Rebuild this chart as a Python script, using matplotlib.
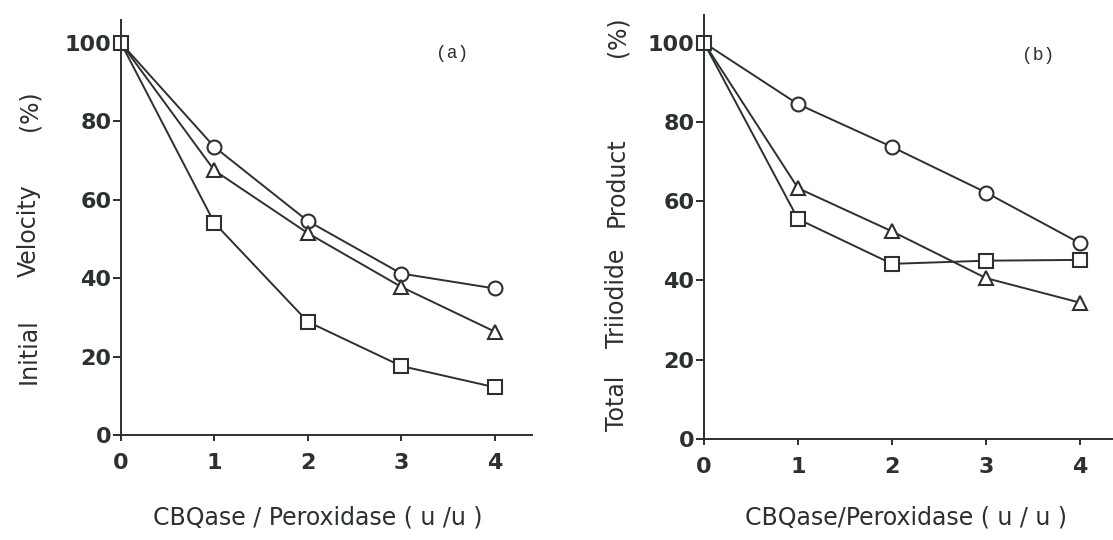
import numpy as np
import matplotlib
matplotlib.use("Agg")
import matplotlib.pyplot as plt

# ratio CBQase / peroxidase (u/u)
ratio = [0, 1, 2, 3, 4]

# (a) initial velocity (%)
vel_circle = [100, 73.5, 54.6, 41.2, 37.4]
vel_triangle = [100, 67.5, 51.5, 37.8, 26.4]
vel_square = [100, 54.1, 28.9, 17.6, 12.2]

# (b) total triiodide product (%)
tri_circle = [100, 84.5, 73.7, 62.2, 49.4]
tri_triangle = [100, 63.3, 52.4, 40.6, 34.4]
tri_square = [100, 55.5, 44.2, 45.0, 45.2]

yticks = [0, 20, 40, 60, 80, 100]
xticks = [0, 1, 2, 3, 4]

# y-label words, spread out like the original typesetting
ylab_a = ['Initial', 'Velocity', '(%)']
ylab_b = ['Total', 'Triiodide', 'Product', '(%)']

ink = '#2b312d'
W, H = 1113, 540

fig = plt.figure(figsize=(W/100, H/100), dpi=100)

def px(x0, y0, x1, y1):
    # pixel box -> figure fraction [left, bottom, width, height]
    return [x0/W, 1-y1/H, (x1-x0)/W, (y1-y0)/H]

ax1 = fig.add_axes(px(121, 20, 532, 435))
ax2 = fig.add_axes(px(704, 15, 1113, 439))

def style(ax, ytop, xright):
    ax.set_xlim(0, xright)
    ax.set_ylim(0, ytop)
    for s in ['top', 'right']:
        ax.spines[s].set_visible(False)
    for s in ['left', 'bottom']:
        ax.spines[s].set_color(ink)
        ax.spines[s].set_linewidth(1.4)
    ax.set_xticks(xticks)
    ax.set_yticks(yticks)
    ax.tick_params(axis='y', direction='out', length=6, width=1.4, pad=1,
                   colors=ink, labelsize=16)
    ax.tick_params(axis='x', direction='out', length=4, width=1.4, pad=9,
                   colors=ink, labelsize=16)
    for lab in ax.get_xticklabels() + ax.get_yticklabels():
        lab.set_fontweight('bold')
        lab.set_family('DejaVu Sans')

def series(ax, y, marker, skip_first=True):
    me = slice(1, None) if skip_first else None
    ax.plot(ratio, y, color=ink, lw=1.4, marker=marker, ms=10,
            mfc='white', mec=ink, mew=1.5, markevery=me, clip_on=False)

style(ax1, 105.9, 4.4)
series(ax1, vel_circle, 'o')
series(ax1, vel_triangle, '^')
series(ax1, vel_square, 's', skip_first=False)

style(ax2, 107, 4.35)
series(ax2, tri_circle, 'o')
series(ax2, tri_triangle, '^')
series(ax2, tri_square, 's', skip_first=False)

lab_font = dict(family='DejaVu Sans', color=ink, fontsize=17)

# word centres (pixel rows)
for word, yc in zip(ylab_a, [351, 231, 111]):
    fig.text(29/W, 1-yc/H, word, rotation=90, ha='center', va='center', **lab_font)
for word, yc in zip(ylab_b, [403, 298, 182, 37]):
    fig.text(617/W, 1-yc/H, word, rotation=90, ha='center', va='center', **lab_font)

fig.text(318/W, 1-517/H, 'CBQase / Peroxidase ( u /u )',
         ha='center', va='center', **lab_font)
fig.text(906/W, 1-517/H, 'CBQase/Peroxidase ( u / u )',
         ha='center', va='center', **lab_font)

fig.text(452/W, 1-53/H, '(a)', ha='center', va='center', fontsize=13,
         family='Liberation Mono', color=ink)
fig.text(1038/W, 1-55/H, '(b)', ha='center', va='center', fontsize=13,
         family='Liberation Mono', color=ink)

fig.savefig('out.png', dpi=100)
